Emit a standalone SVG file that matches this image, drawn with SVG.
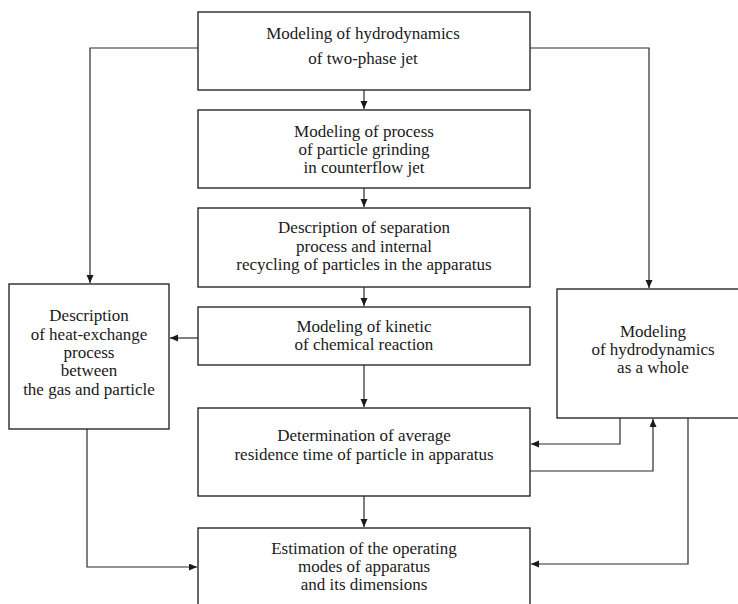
<svg xmlns="http://www.w3.org/2000/svg" width="738" height="604" viewBox="0 0 738 604">
<style>
.box{fill:#fff;stroke:#2a2a2a;stroke-width:1.4}
.t{font-family:"Liberation Serif","Times New Roman",serif;font-size:17px;fill:#1a1a1a;text-anchor:middle}
.c{fill:none;stroke:#2a2a2a;stroke-width:1.2}
</style>
<defs>
<marker id="ah" markerUnits="userSpaceOnUse" markerWidth="9" markerHeight="8" refX="8" refY="3.5" orient="auto">
<path d="M0,0 L8,3.5 L0,7 z" fill="#1a1a1a"/>
</marker>
</defs>
<rect width="738" height="604" fill="#fff"/>
<g id="connectors">
<path class="c" d="M198,48 H90 V283" marker-end="url(#ah)"/>
<path class="c" d="M530,48 H649 V288" marker-end="url(#ah)"/>
<path class="c" d="M364,90 V109" marker-end="url(#ah)"/>
<path class="c" d="M364,188 V207" marker-end="url(#ah)"/>
<path class="c" d="M364,287 V306" marker-end="url(#ah)"/>
<path class="c" d="M364,365 V407" marker-end="url(#ah)"/>
<path class="c" d="M364,496 V527" marker-end="url(#ah)"/>
<path class="c" d="M198,338 H170" marker-end="url(#ah)"/>
<path class="c" d="M620,418 V444 H531" marker-end="url(#ah)"/>
<path class="c" d="M530,471 H653 V419" marker-end="url(#ah)"/>
<path class="c" d="M688,418 V564 H531" marker-end="url(#ah)"/>
<path class="c" d="M87,429 V567 H197" marker-end="url(#ah)"/>
</g>
<g id="n1">
<rect class="box" x="198" y="12" width="332" height="78"/>
<text class="t" x="363" y="39">Modeling of hydrodynamics</text>
<text class="t" x="363" y="64">of two-phase jet</text>
</g>
<g id="n2">
<rect class="box" x="198" y="110" width="332" height="78"/>
<text class="t" x="364" y="137">Modeling of process</text>
<text class="t" x="364" y="155">of particle grinding</text>
<text class="t" x="364" y="173">in counterflow jet</text>
</g>
<g id="n3">
<rect class="box" x="198" y="208" width="332" height="79"/>
<text class="t" x="364" y="233">Description of separation</text>
<text class="t" x="364" y="252">process and internal</text>
<text class="t" x="364" y="270">recycling of particles in the apparatus</text>
</g>
<g id="n4">
<rect class="box" x="198" y="307" width="332" height="58"/>
<text class="t" x="364" y="332">Modeling of kinetic</text>
<text class="t" x="364" y="350">of chemical reaction</text>
</g>
<g id="n5">
<rect class="box" x="198" y="408" width="332" height="88"/>
<text class="t" x="364" y="441">Determination of average</text>
<text class="t" x="364" y="460">residence time of particle in apparatus</text>
</g>
<g id="n6">
<rect class="box" x="198" y="528" width="332" height="90"/>
<text class="t" x="364" y="554">Estimation of the operating</text>
<text class="t" x="364" y="572">modes of apparatus</text>
<text class="t" x="364" y="590">and its dimensions</text>
</g>
<g id="n7">
<rect class="box" x="9" y="284" width="160" height="145"/>
<text class="t" x="89" y="321">Description</text>
<text class="t" x="89" y="340">of heat-exchange</text>
<text class="t" x="89" y="358">process</text>
<text class="t" x="89" y="376">between</text>
<text class="t" x="89" y="395">the gas and particle</text>
</g>
<g id="n8">
<rect class="box" x="557" y="289" width="200" height="129"/>
<text class="t" x="653" y="337">Modeling</text>
<text class="t" x="653" y="355">of hydrodynamics</text>
<text class="t" x="653" y="373">as a whole</text>
</g>
</svg>
